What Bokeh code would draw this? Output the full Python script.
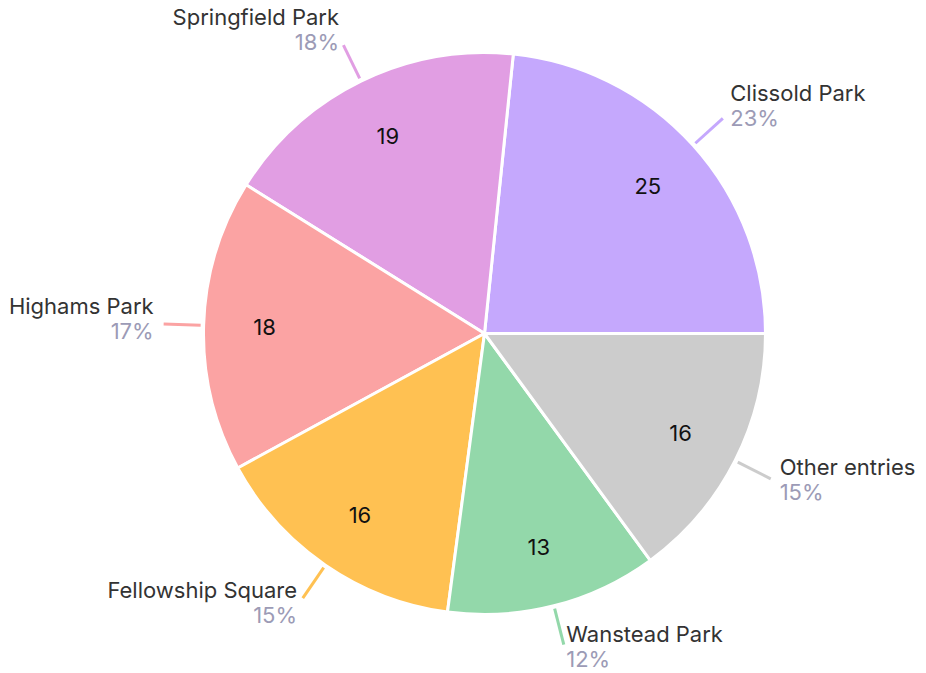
import math
from bokeh.plotting import figure
from bokeh.models import Range1d, ColumnDataSource
from bokeh.core.properties import value
from bokeh.embed import file_html
from bokeh.resources import INLINE

categories = ["Clissold Park", "Springfield Park", "Highams Park", "Fellowship Square", "Wanstead Park", "Other entries"]
values = [25, 19, 18, 16, 13, 16]
colors = ["#c5a8fd", "#e19ee3", "#fba3a3", "#ffc152", "#93d8aa", "#cccccc"]

W, H = 926, 673
CX, CY, R = 484, 673 - 333, 281
FONT = "Inter"

total = sum(values)
starts, ends, mids = [], [], []
acc = 0.0
for v in values:
    a0 = acc / total * 2 * math.pi
    acc += v
    a1 = acc / total * 2 * math.pi
    starts.append(a0); ends.append(a1); mids.append((a0 + a1) / 2)

pcts = [f"{round(v / total * 100)}%" for v in values]

p = figure(width=W, height=H, x_range=Range1d(0, W), y_range=Range1d(0, H),
           output_backend="svg", toolbar_location=None,
           x_axis_location=None, y_axis_location=None, min_border=0)
p.grid.visible = False
p.outline_line_color = None
p.background_fill_color = "white"

src = ColumnDataSource(dict(start=starts, end=ends, color=colors, name=categories, val=values))
p.wedge(x=CX, y=CY, radius=R, start_angle="start", end_angle="end",
        fill_color="color", line_color="white", line_width=3, source=src)

# values inside
vx = [CX + 220 * math.cos(m) for m in mids]
vy = [CY + 220 * math.sin(m) for m in mids]
p.text(x=vx, y=vy, text=[str(v) for v in values], text_align="center", text_baseline="middle",
       text_font=value(FONT), text_font_size="22px", text_color="#111111")

# leader lines and outside labels
r0, r1 = 284, 321
for i, m in enumerate(mids):
    c, s = math.cos(m), math.sin(m)
    x0, y0 = CX + r0 * c, CY + r0 * s
    x1, y1 = CX + r1 * c, CY + r1 * s
    p.line([x0, x1], [y0, y1], line_color=colors[i], line_width=3)
    tx = x1 + 10 * c
    align = "left" if c >= 0 else "right"
    bc = max(y1 + 12 * s + 5, 27)
    p.text(x=[tx], y=[bc + 12.5], text=[categories[i]], text_align=align, text_baseline="middle",
           text_font=value(FONT), text_font_size="22px", text_color="#333333")
    p.text(x=[tx], y=[bc - 12.5], text=[pcts[i]], text_align=align, text_baseline="middle",
           text_font=value(FONT), text_font_size="22px", text_color="#9c9bb6")

open("out.html", "w").write(file_html(p, INLINE))
